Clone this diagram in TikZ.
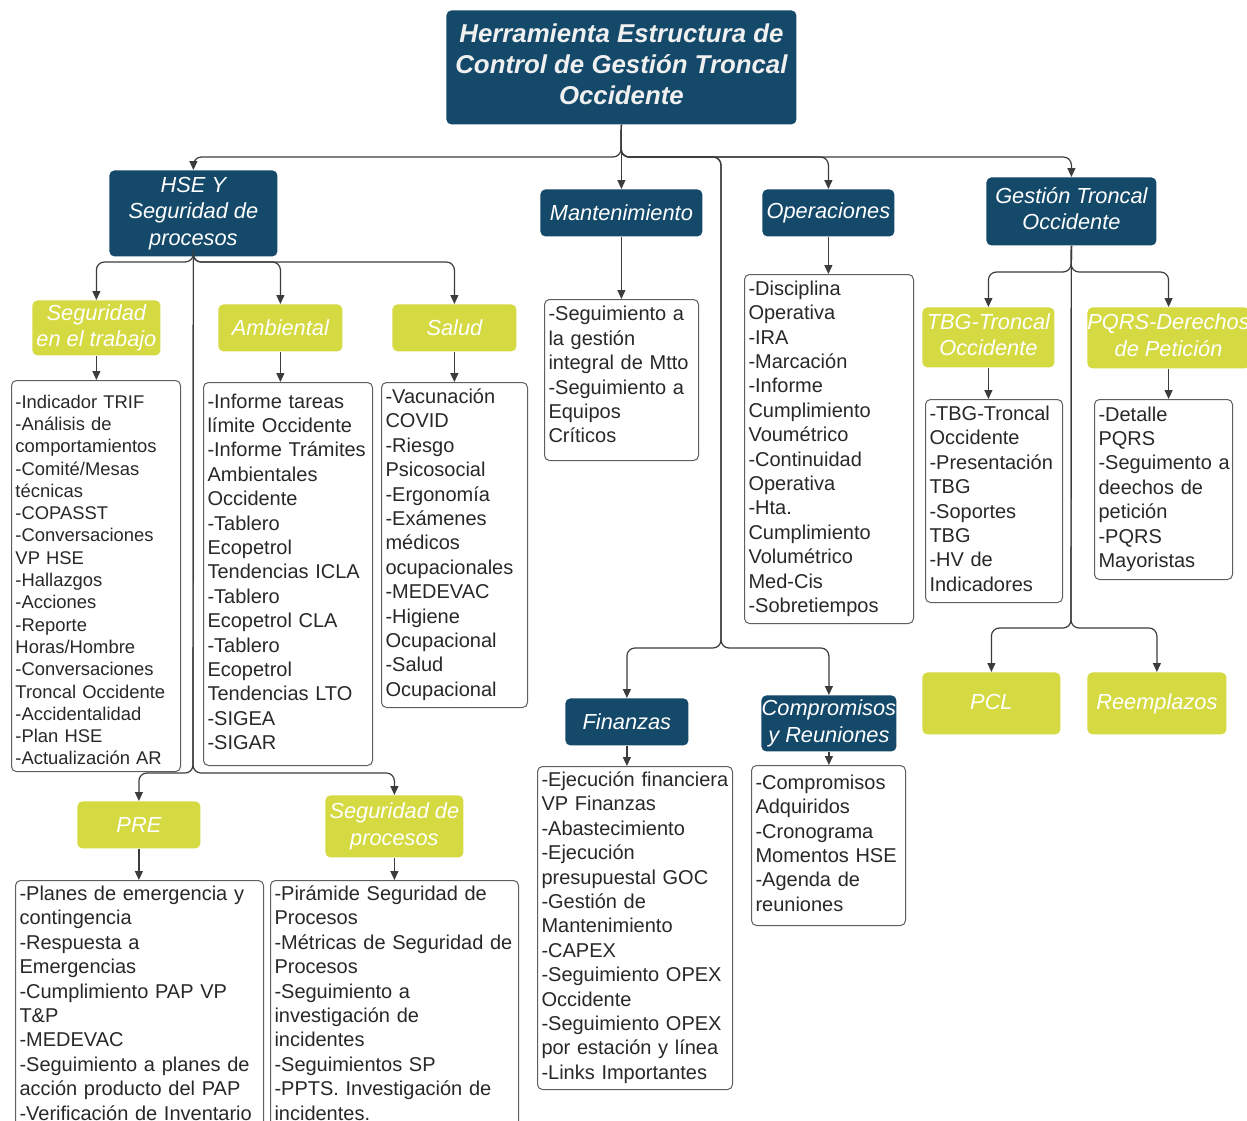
\documentclass[tikz,border=0pt]{standalone}
\usepackage{fontspec}
\setmainfont{Liberation Sans}
\usetikzlibrary{arrows.meta}
\definecolor{hblue}{RGB}{20,73,106}
\definecolor{hgreen}{RGB}{213,218,66}
\definecolor{lgray}{RGB}{95,95,95}
\definecolor{ltext}{RGB}{40,40,40}
\definecolor{cgray}{RGB}{60,60,60}
\newcommand\itemlines[1]{\begin{tabular}{@{}l@{}}#1\end{tabular}}
\newcommand\lowpad[1]{\rule[-#1]{0pt}{0pt}}
\tikzset{
  hdr/.style={rounded corners=2.5pt, fill=hblue, text=white, inner sep=0pt, anchor=north west,
    align=center, font=\itshape\fontsize{10.9}{13.25}\selectfont},
  grn/.style={hdr, fill=hgreen},
  titlebox/.style={hdr, text=white!94!black, font=\bfseries\itshape\fontsize{12.9}{15.5}\selectfont},
  lst/.style={draw=lgray, line width=0.5pt, rounded corners=2.5pt, fill=white, text=ltext,
    inner xsep=2pt, inner ysep=0pt, anchor=north west, align=left,
    font=\fontsize{10}{12.2}\selectfont},
  conn/.style={draw=cgray, line width=0.6pt, rounded corners=4pt, -{Triangle[length=4.5pt,width=4pt]}},
}
\begin{document}
\begin{tikzpicture}[x=0.5pt,y=-0.5pt]
\clip (0,0) rectangle (1247,1120);
\fill[white] (0,0) rectangle (1247,1120);

% top level
\node[titlebox, minimum width=175pt, minimum height=57pt] (title) at (446,10)
  {Herramienta Estructura de\\Control de Gestión Troncal\\Occidente\lowpad{3.6pt}};
\node[hdr, minimum width=84pt, minimum height=43pt] (hse) at (109,170) {HSE Y\\Seguridad de\\procesos};
\node[hdr, minimum width=81pt, minimum height=23.5pt] (mant) at (540,189) {Mantenimiento};
\node[hdr, minimum width=66pt, minimum height=23.5pt] (oper) at (762,189) {Operaciones};
\node[hdr, minimum width=85pt, minimum height=34pt] (gest) at (986,177) {Gestión Troncal\\Occidente\lowpad{3pt}};
\node[hdr, minimum width=61.5pt, minimum height=23.5pt] (fin) at (565,698) {Finanzas};
\node[hdr, minimum width=67.5pt, minimum height=28pt] (comp) at (761,695) {Compromisos\\y Reuniones};

% green nodes
\node[grn, minimum width=64pt, minimum height=27.5pt] (segt) at (32,300) {Seguridad\\en el trabajo};
\node[grn, minimum width=62pt, minimum height=23.5pt] (amb) at (218,304) {Ambiental};
\node[grn, minimum width=62pt, minimum height=23.5pt] (sal) at (392,304) {Salud};
\node[grn, minimum width=66pt, minimum height=30pt] (tbg) at (922,307) {TBG-Troncal\\Occidente\lowpad{3pt}};
\node[grn, minimum width=77pt, minimum height=30.5pt] (pqrs) at (1087,307) {PQRS-Derechos\\de Petición\lowpad{3pt}};
\node[grn, minimum width=69pt, minimum height=31pt] (pcl) at (922,672) {PCL\lowpad{2pt}};
\node[grn, minimum width=69.5pt, minimum height=31pt] (reem) at (1087,672) {Reemplazos};
\node[grn, minimum width=61.5pt, minimum height=23.5pt] (pre) at (77,801) {PRE};
\node[grn, minimum width=69pt, minimum height=31pt] (segp) at (325,795) {Seguridad de\\procesos};

% lists
\node[lst, text width=80.5pt, minimum height=194pt, font=\fontsize{9.2}{11.15}\selectfont] (segl) at (11,380)
  {\itemlines{\rule{0pt}{13.8pt}-Indicador TRIF\\-Análisis de\\comportamientos\\-Comité/Mesas\\técnicas\\-COPASST\\-Conversaciones\\VP HSE\\-Hallazgos\\-Acciones\\-Reporte\\Horas/Hombre\\-Conversaciones\\Troncal Occidente\\-Accidentalidad\\-Plan HSE\\-Actualización AR}};
\node[lst, text width=80.5pt, minimum height=191.5pt] (ambl) at (203,382)
  {\itemlines{-Informe tareas\\límite Occidente\\-Informe Trámites\\Ambientales\\Occidente\\-Tablero\\Ecopetrol\\Tendencias ICLA\\-Tablero\\Ecopetrol CLA\\-Tablero\\Ecopetrol\\Tendencias LTO\\-SIGEA\\-SIGAR}};
\node[lst, text width=69pt, minimum height=162.5pt] (sall) at (381,382)
  {\itemlines{-Vacunación\\COVID\\-Riesgo\\Psicosocial\\-Ergonomía\\-Exámenes\\médicos\\ocupacionales\\-MEDEVAC\\-Higiene\\Ocupacional\\-Salud\\Ocupacional}};
\node[lst, text width=73pt, minimum height=80.5pt] (mantl) at (544,299)
  {\itemlines{-Seguimiento a\\la gestión\\integral de Mtto\\-Seguimiento a\\Equipos\\Críticos\lowpad{6.6pt}}};
\node[lst, text width=80.5pt, minimum height=174.5pt] (operl) at (744,274)
  {\itemlines{-Disciplina\\Operativa\\-IRA\\-Marcación\\-Informe\\Cumplimiento\\Voumétrico\\-Continuidad\\Operativa\\-Hta.\\Cumplimiento\\Volumétrico\\Med-Cis\\-Sobretiempos}};
\node[lst, text width=64.5pt, minimum height=101.5pt] (tbgl) at (925,399)
  {\itemlines{-TBG-Troncal\\Occidente\\-Presentación\\TBG\\-Soportes\\TBG\\-HV de\\Indicadores}};
\node[lst, text width=65pt, minimum height=90pt] (pqrsl) at (1094,399)
  {\itemlines{-Detalle\\PQRS\\-Seguimento a\\deechos de\\petición\\-PQRS\\Mayoristas}};
\node[lst, text width=93.5pt, minimum height=161.5pt] (finl) at (537,766)
  {\itemlines{-Ejecución financiera\\VP Finanzas\\-Abastecimiento\\-Ejecución\\presupuestal GOC\\-Gestión de\\Mantenimiento\\-CAPEX\\-Seguimiento OPEX\\Occidente\\-Seguimiento OPEX\\por estación y línea\\-Links Importantes}};
\node[lst, text width=73pt, minimum height=80pt] (compl) at (751,765)
  {\itemlines{-Compromisos\\Adquiridos\\-Cronograma\\Momentos HSE\\-Agenda de\\reuniones}};
\node[lst, text width=120pt, minimum height=125pt] (prel) at (15,880)
  {\itemlines{-Planes de emergencia y\\contingencia\\-Respuesta a\\Emergencias\\-Cumplimiento PAP VP\\T\&P\\-MEDEVAC\\-Seguimiento a planes de\\acción producto del PAP\\-Verificación de Inventario}};
\node[lst, text width=120pt, minimum height=125pt] (segpl) at (270,880)
  {\itemlines{-Pirámide Seguridad de\\Procesos\\-Métricas de Seguridad de\\Procesos\\-Seguimiento a\\investigación de\\incidentes\\-Seguimientos SP\\-PPTS. Investigación de\\incidentes.}};

% junctions
\coordinate (j0) at (621,157);
\coordinate (j1) at (721,648);
\coordinate (j2) at (193,262);
\coordinate (j3) at (193,773);
\coordinate (j4) at (1071,272);
\coordinate (j5) at (1071,628);

% connectors from title
\draw[conn] (title.south) -- (j0) -| (hse.north);
\draw[conn] (title.south) -- (mant.north);
\draw[conn] (title.south) -- (j0) -| (oper.north);
\draw[conn] (title.south) -- (j0) -| (gest.north);
\draw[conn] (title.south) -- (j0) -| (j1) -| (fin.north);
\draw[conn] (title.south) -- (j0) -| (j1) -| (comp.north);

% HSE branches
\draw[conn] (hse.south) -- (j2) -| (segt.north);
\draw[conn] (hse.south) -- (j2) -| (amb.north);
\draw[conn] (hse.south) -- (j2) -| (sal.north);
\draw[conn] (hse.south) -- (j3) -| (pre.north);
\draw[conn] (hse.south) -- (j3) -| (segp.north);

% Gestion branches
\draw[conn] (gest.south) -- (j4) -| (tbg.north);
\draw[conn] (gest.south) -- (j4) -| (pqrs.north);
\draw[conn] (gest.south) -- (j5) -| (pcl.north);
\draw[conn] (gest.south) -- (j5) -| (reem.north);

% to lists
\draw[conn] (segt.south) -- (segt.south |- segl.north);
\draw[conn] (amb.south) -- (amb.south |- ambl.north);
\draw[conn] (sal.south) -- (sal.south |- sall.north);
\draw[conn] (mant.south) -- (mant.south |- mantl.north);
\draw[conn] (oper.south) -- (oper.south |- operl.north);
\draw[conn] (tbg.south) -- (tbg.south |- tbgl.north);
\draw[conn] (pqrs.south) -- (pqrs.south |- pqrsl.north);
\draw[conn] (fin.south) -- (fin.south |- finl.north);
\draw[conn] (comp.south) -- (comp.south |- compl.north);
\draw[conn] (pre.south) -- (pre.south |- prel.north);
\draw[conn] (segp.south) -- (segp.south |- segpl.north);
\end{tikzpicture}
\end{document}
